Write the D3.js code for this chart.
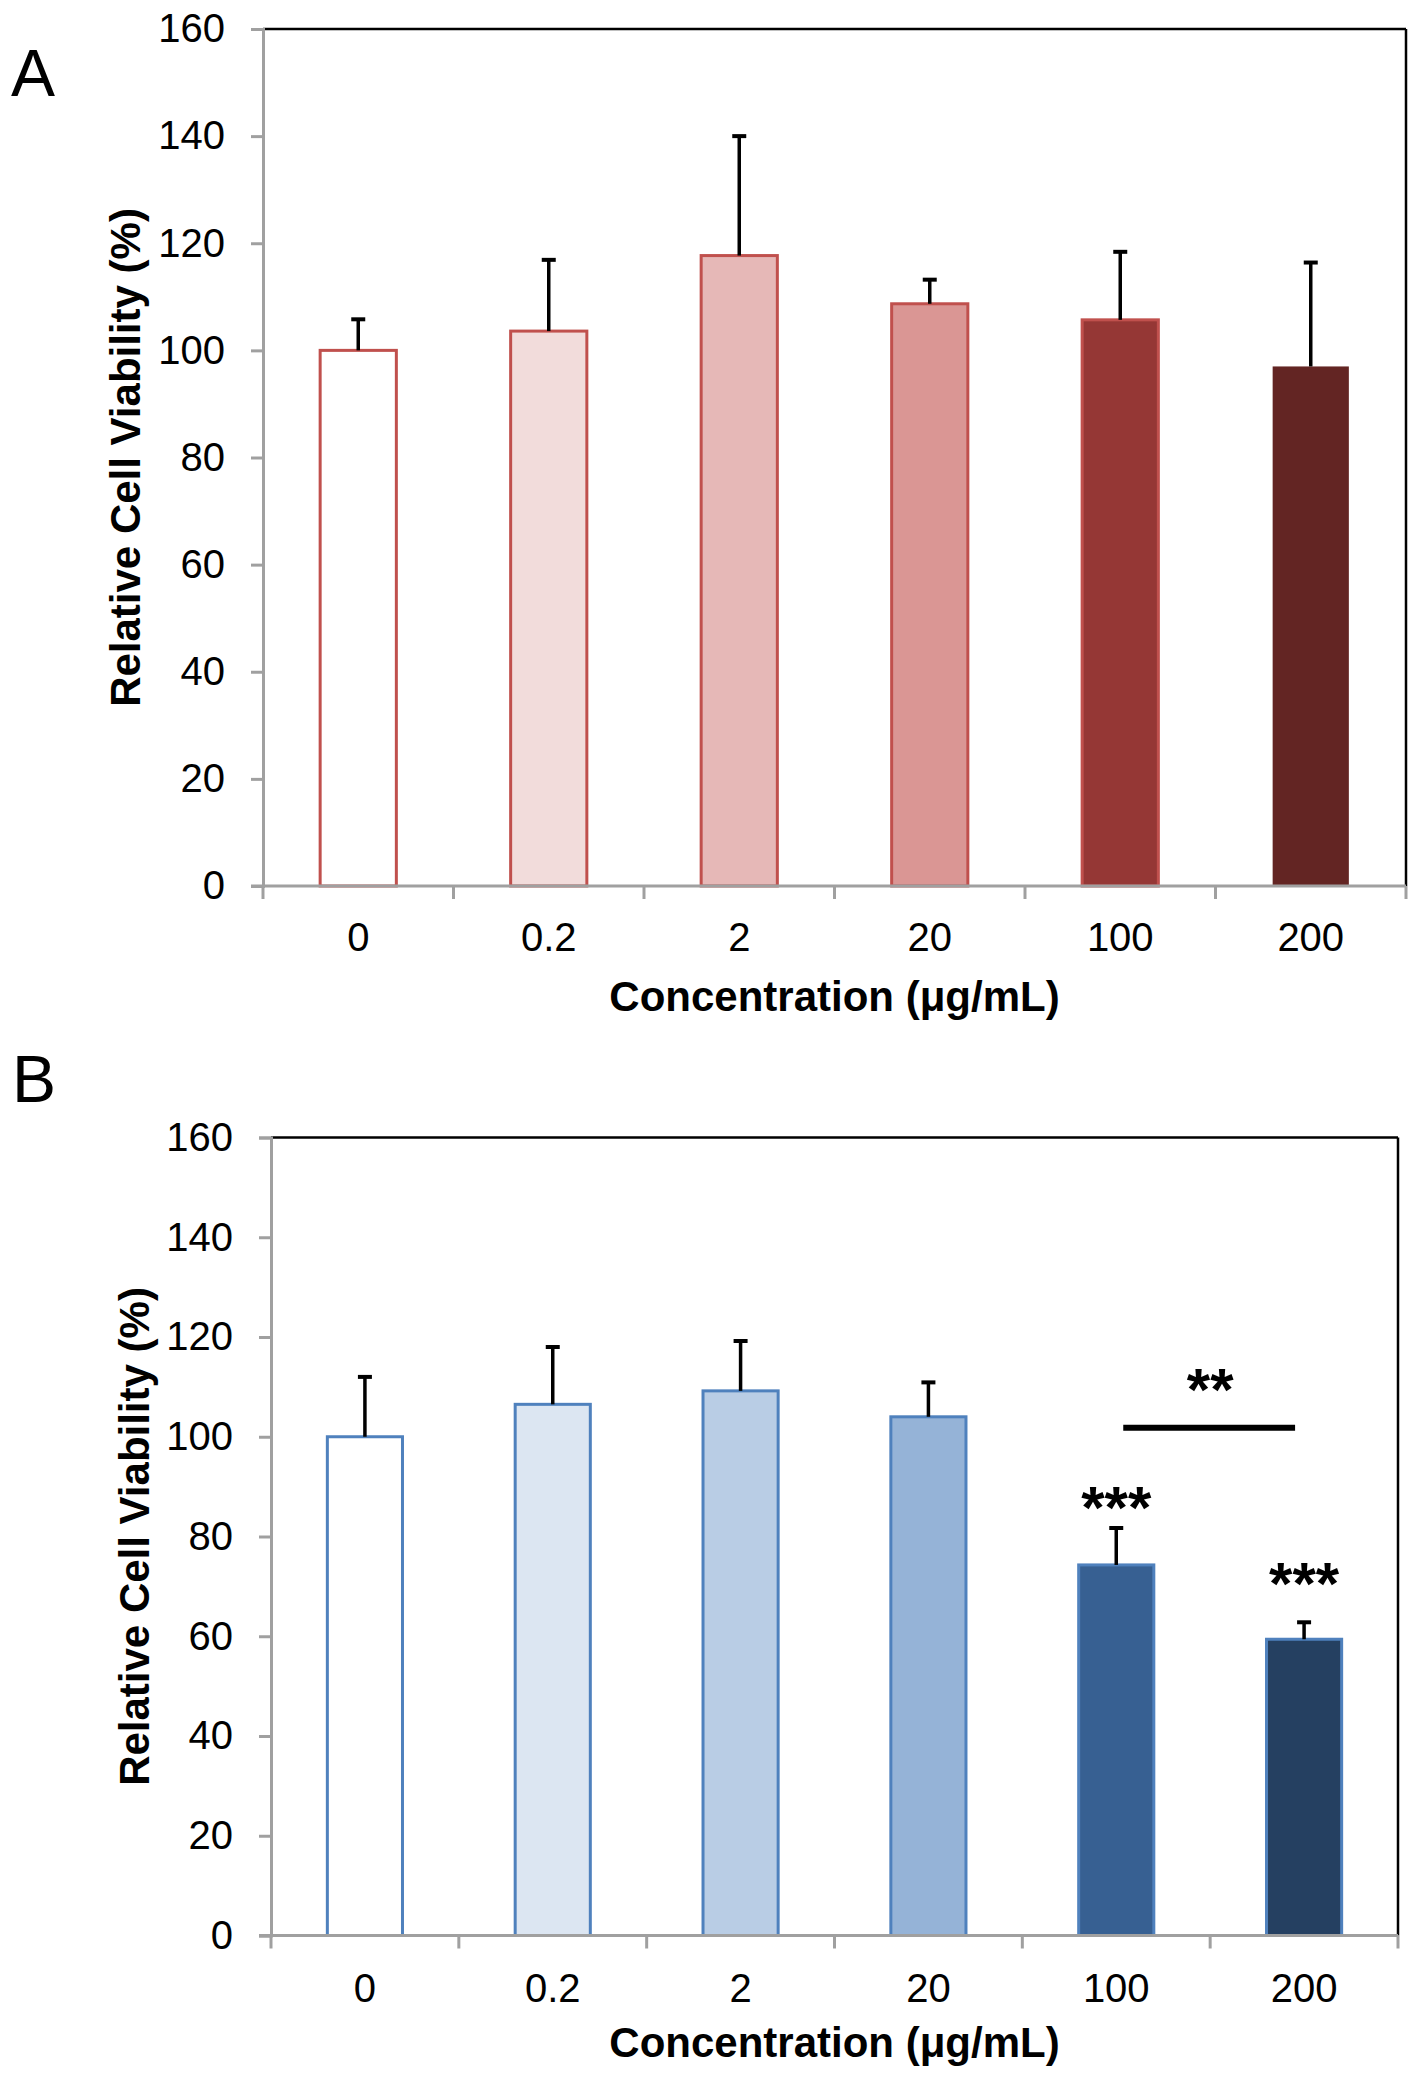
<!DOCTYPE html>
<html>
<head>
<meta charset="utf-8">
<script src="https://cdn.jsdelivr.net/npm/d3@7"></script>
<style>
  html, body { margin: 0; padding: 0; background: #ffffff; }
  svg { display: block; }
  text { font-family: "Liberation Sans", Arial, sans-serif; fill: #000; }
</style>
</head>
<body>
<script>
// ---- data ----
const categories = ["0", "0.2", "2", "20", "100", "200"];
const yTicks = [0, 20, 40, 60, 80, 100, 120, 140, 160];

const meansA = [100, 103.6, 117.7, 108.7, 105.7, 97.0];
const errA   = [5.8, 13.3, 22.3, 4.5, 12.7, 19.4];
const fillsA   = ["#ffffff", "#f2dcdb", "#e6b8b7", "#da9694", "#953735", "#632523"];
const strokesA = ["#c0504d", "#c0504d", "#c0504d", "#c0504d", "#c0504d", "none"];

const meansB = [100, 106.5, 109.2, 104.0, 74.3, 59.4];
const errB   = [12.0, 11.5, 10.0, 6.9, 7.4, 3.4];
const fillsB   = ["#ffffff", "#dce6f2", "#b9cde5", "#95b3d7", "#376092", "#254061"];
const strokesB = ["#4f81bd", "#4f81bd", "#4f81bd", "#4f81bd", "#4f81bd", "#4f81bd"];

// significance annotations for panel B (y in data units)
const starLabels = [
  { cat: "100", y: 81.8, text: "***" },
  { cat: "200", y: 66.4, text: "***" }
];
const bracketB = { from: "100", to: "200", y: 101.8, label: "**", labelY: 105.3 };

const W = 1418, H = 2081;
const svg = d3.select("body").append("svg").attr("width", W).attr("height", H);
svg.append("rect").attr("width", W).attr("height", H).attr("fill", "#fff");

function panel(cfg) {
  const g = svg.append("g");
  const x = d3.scaleBand().domain(categories).range([cfg.left, cfg.right])
    .paddingInner(0.6).paddingOuter(0.3);
  const y = d3.scaleLinear().domain([0, 160]).range([cfg.bottom, cfg.top]);
  const axisCol = "#a0a0a0";

  // frame top & right (black)
  g.append("line").attr("x1", cfg.left).attr("x2", cfg.right)
    .attr("y1", y(160)).attr("y2", y(160)).attr("stroke", "#000").attr("stroke-width", 2.5);
  g.append("line").attr("x1", cfg.right).attr("x2", cfg.right)
    .attr("y1", y(160)).attr("y2", y(0)).attr("stroke", "#000").attr("stroke-width", 2.5);

  // y axis
  const yAxis = d3.axisLeft(y).tickValues(yTicks).tickSize(12).tickPadding(26)
    .tickFormat(d3.format("d"));
  const ya = g.append("g").attr("transform", `translate(${cfg.left},0)`).call(yAxis);
  ya.select(".domain").attr("stroke", axisCol).attr("stroke-width", 3);
  ya.selectAll(".tick line").attr("stroke", axisCol).attr("stroke-width", 3);
  ya.selectAll(".tick text").style("font-size", "40px").attr("fill", "#000")
    .style("font-family", "'Liberation Sans', Arial, sans-serif");

  // bars
  const data = categories.map((c, i) => ({ c, m: cfg.means[i], e: cfg.errs[i], f: cfg.fills[i], s: cfg.strokes[i] }));
  g.selectAll("rect.bar").data(data).enter().append("rect")
    .attr("class", "bar")
    .attr("x", d => x(d.c))
    .attr("width", x.bandwidth())
    .attr("y", d => y(d.m))
    .attr("height", d => y(0) - y(d.m))
    .attr("fill", d => d.f)
    .attr("stroke", d => d.s)
    .attr("stroke-width", 3);

  // error bars
  const eb = g.selectAll("g.err").data(data).enter().append("g").attr("class", "err");
  eb.append("line")
    .attr("x1", d => x(d.c) + x.bandwidth() / 2).attr("x2", d => x(d.c) + x.bandwidth() / 2)
    .attr("y1", d => y(d.m)).attr("y2", d => y(d.m + d.e))
    .attr("stroke", "#000").attr("stroke-width", 3.5);
  eb.append("line")
    .attr("x1", d => x(d.c) + x.bandwidth() / 2 - 7).attr("x2", d => x(d.c) + x.bandwidth() / 2 + 7)
    .attr("y1", d => y(d.m + d.e)).attr("y2", d => y(d.m + d.e))
    .attr("stroke", "#000").attr("stroke-width", 4);

  // x axis (drawn on top of bars)
  const step = x.step();
  const boundaries = d3.range(categories.length + 1).map(i => cfg.left + i * step);
  g.append("line").attr("x1", cfg.left - 12).attr("x2", cfg.right)
    .attr("y1", y(0)).attr("y2", y(0)).attr("stroke", axisCol).attr("stroke-width", 3);
  g.selectAll("line.xtick").data(boundaries).enter().append("line")
    .attr("class", "xtick")
    .attr("x1", d => d).attr("x2", d => d)
    .attr("y1", y(0)).attr("y2", y(0) + 13)
    .attr("stroke", axisCol).attr("stroke-width", 3);
  g.selectAll("text.xlab").data(categories).enter().append("text")
    .attr("class", "xlab")
    .attr("x", d => x(d) + x.bandwidth() / 2)
    .attr("y", y(0) + cfg.xLabOff)
    .attr("text-anchor", "middle")
    .style("font-size", "40px")
    .text(d => d);

  // axis titles
  g.append("text")
    .attr("x", (cfg.left + cfg.right) / 2)
    .attr("y", cfg.xTitleY)
    .attr("text-anchor", "middle")
    .style("font-size", "42px").style("font-weight", "bold")
    .text("Concentration (\u03bcg/mL)");
  g.append("text")
    .attr("transform", `translate(${cfg.yTitleX},${(y(0) + y(160)) / 2}) rotate(-90)`)
    .attr("text-anchor", "middle")
    .style("font-size", "42px").style("font-weight", "bold")
    .text("Relative Cell Viability (%)");

  // panel letter
  g.append("text").attr("x", cfg.letterX).attr("y", cfg.letterY)
    .style("font-size", "66px").text(cfg.letter);

  return { g, x, y };
}

panel({
  left: 263, right: 1406, top: 29, bottom: 886,
  means: meansA, errs: errA, fills: fillsA, strokes: strokesA,
  xLabOff: 65, xTitleY: 1011, yTitleX: 140, letter: "A", letterX: 11, letterY: 96
});

const pB = panel({
  left: 271, right: 1398, top: 1137.5, bottom: 1935.5,
  means: meansB, errs: errB, fills: fillsB, strokes: strokesB,
  xLabOff: 66, xTitleY: 2057, yTitleX: 149, letter: "B", letterX: 12, letterY: 1102
});

// significance annotations in B
const cx = c => pB.x(c) + pB.x.bandwidth() / 2;
pB.g.selectAll("text.star").data(starLabels).enter().append("text")
  .attr("class", "star")
  .attr("x", d => cx(d.cat)).attr("y", d => pB.y(d.y))
  .attr("text-anchor", "middle")
  .style("font-size", "60px").style("font-weight", "bold")
  .text(d => d.text);
pB.g.append("line")
  .attr("x1", cx(bracketB.from) + 7).attr("x2", cx(bracketB.to) - 9)
  .attr("y1", pB.y(bracketB.y)).attr("y2", pB.y(bracketB.y))
  .attr("stroke", "#000").attr("stroke-width", 6);
pB.g.append("text")
  .attr("x", (cx(bracketB.from) + cx(bracketB.to)) / 2)
  .attr("y", pB.y(bracketB.labelY))
  .attr("text-anchor", "middle")
  .style("font-size", "60px").style("font-weight", "bold")
  .text(bracketB.label);
</script>
</body>
</html>
